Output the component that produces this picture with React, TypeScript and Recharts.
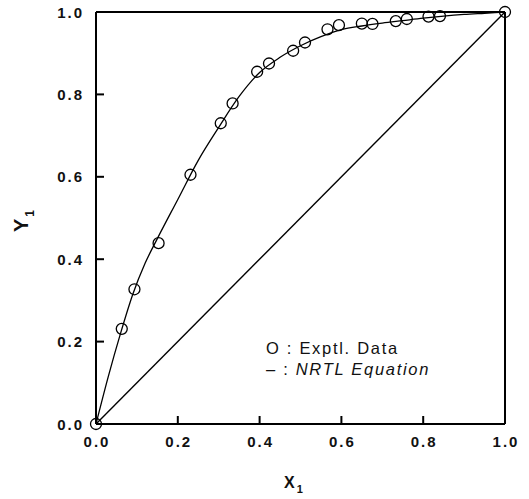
import React from 'react';
import { ComposedChart, Line, Scatter, XAxis, YAxis } from 'recharts';

// experimental VLE data (x1, y1)
const exptX = [0, 0.063, 0.094, 0.153, 0.231, 0.305, 0.334, 0.394, 0.423, 0.482, 0.511, 0.566, 0.594, 0.65, 0.676, 0.733, 0.76, 0.813, 0.841, 1.0];
const exptY = [0, 0.231, 0.327, 0.439, 0.605, 0.73, 0.778, 0.855, 0.875, 0.906, 0.926, 0.958, 0.968, 0.972, 0.971, 0.978, 0.983, 0.989, 0.99, 1.0];

// NRTL fit curve
const nrtlX = [0, 0.03, 0.06, 0.09, 0.12, 0.15, 0.2, 0.25, 0.3, 0.35, 0.4, 0.45, 0.5, 0.55, 0.6, 0.65, 0.7, 0.75, 0.8, 0.85, 0.9, 0.95, 1.0];
const nrtlY = [0, 0.115, 0.22, 0.315, 0.39, 0.45, 0.545, 0.64, 0.72, 0.795, 0.853, 0.89, 0.918, 0.94, 0.957, 0.966, 0.973, 0.979, 0.985, 0.99, 0.994, 0.997, 1.0];

// x = y diagonal
const diagX = [0, 1];
const diagY = [0, 1];

const xTicks = [0, 0.2, 0.4, 0.6, 0.8, 1.0];
const yTicks = [0, 0.2, 0.4, 0.6, 0.8, 1.0];

const expt = exptX.map((x, i) => ({ x, y: exptY[i] }));
const nrtl = nrtlX.map((x, i) => ({ x, y: nrtlY[i] }));
const diag = diagX.map((x, i) => ({ x, y: diagY[i] }));

const FONT = '"Liberation Sans", Arial, sans-serif';
// negative tick size -> tick marks point into the plot
const TICK_LEN = 8;

const tickText = {
    fontFamily: FONT,
    fontSize: 15,
    fontWeight: 700,
    letterSpacing: 2,
    fill: '#111',
};

const tickLineStyle = { stroke: '#000', strokeWidth: 2 };
const axisLineStyle = { stroke: '#000', strokeWidth: 2 };

const BottomTick = ({ x, y, payload }: any) => (
    <text x={x + 1} y={y + 23} textAnchor="middle" style={tickText}>
        {payload.value.toFixed(1)}
    </text>
);

const LeftTick = ({ x, y, payload }: any) => (
    <text x={x - 12} y={y + 5.5} textAnchor="end" style={tickText}>
        {payload.value.toFixed(1)}
    </text>
);

// top/right axes carry tick marks only
const NoLabel = () => <g />;

const OpenCircle = ({ cx, cy }: any) => (
    <circle cx={cx} cy={cy} r={5.5} fill="none" stroke="#000" strokeWidth={1.3} />
);

const XLabel = ({ viewBox }: any) => {
    const cx = viewBox.x + viewBox.width / 2 - 7;
    return (
        <text x={cx} y={488} textAnchor="middle" style={{ fontFamily: FONT, fontSize: 16, fontWeight: 700, fill: '#111' }}>
            X
            <tspan fontSize={11} dx={2} dy={5}>1</tspan>
        </text>
    );
};

const YLabel = ({ viewBox }: any) => {
    const cy = viewBox.y + viewBox.height / 2 + 3;
    const cx = 28;
    return (
        <text
            x={cx}
            y={cy}
            transform={`rotate(-90, ${cx}, ${cy})`}
            textAnchor="middle"
            style={{ fontFamily: FONT, fontSize: 20, fontWeight: 700, fill: '#111' }}
        >
            Y
            <tspan fontSize={12} dx={2} dy={6}>1</tspan>
        </text>
    );
};

export default function App() {
    return (
        <div style={{ position: 'absolute', left: 0, top: 0, width: 529, height: 499, background: '#fff' }}>
            <ComposedChart width={529} height={499} margin={{ top: 2, right: 14, bottom: 0, left: 0 }}>
                <XAxis
                    xAxisId="b"
                    type="number"
                    dataKey="x"
                    domain={[0, 1]}
                    ticks={xTicks}
                    interval={0}
                    orientation="bottom"
                    height={75}
                    tickSize={-TICK_LEN}
                    tickMargin={TICK_LEN}
                    tickLine={tickLineStyle}
                    tick={<BottomTick />}
                    axisLine={axisLineStyle}
                    label={<XLabel />}
                />
                <XAxis
                    xAxisId="t"
                    type="number"
                    dataKey="x"
                    domain={[0, 1]}
                    ticks={xTicks}
                    interval={0}
                    orientation="top"
                    height={10}
                    tickSize={-TICK_LEN}
                    tickLine={tickLineStyle}
                    tick={<NoLabel />}
                    axisLine={axisLineStyle}
                />
                <YAxis
                    yAxisId="l"
                    type="number"
                    dataKey="y"
                    domain={[0, 1]}
                    ticks={yTicks}
                    interval={0}
                    orientation="left"
                    width={96}
                    tickSize={-TICK_LEN}
                    tickMargin={TICK_LEN}
                    tickLine={tickLineStyle}
                    tick={<LeftTick />}
                    axisLine={axisLineStyle}
                    label={<YLabel />}
                />
                <YAxis
                    yAxisId="r"
                    type="number"
                    dataKey="y"
                    domain={[0, 1]}
                    ticks={yTicks}
                    interval={0}
                    orientation="right"
                    width={10}
                    tickSize={-TICK_LEN}
                    tickLine={tickLineStyle}
                    tick={<NoLabel />}
                    axisLine={axisLineStyle}
                />
                <Line
                    xAxisId="b"
                    yAxisId="l"
                    data={diag}
                    dataKey="y"
                    type="linear"
                    stroke="#000"
                    strokeWidth={1.4}
                    dot={false}
                    isAnimationActive={false}
                />
                <Line
                    xAxisId="b"
                    yAxisId="l"
                    data={nrtl}
                    dataKey="y"
                    type="monotone"
                    stroke="#000"
                    strokeWidth={1.3}
                    dot={false}
                    isAnimationActive={false}
                />
                <Scatter
                    xAxisId="b"
                    yAxisId="l"
                    data={expt}
                    dataKey="y"
                    shape={<OpenCircle />}
                    isAnimationActive={false}
                />
            </ComposedChart>
            <div
                style={{
                    position: 'absolute',
                    left: 266,
                    top: 338,
                    fontFamily: FONT,
                    fontSize: 16.5,
                    letterSpacing: 1.7,
                    lineHeight: '21px',
                    color: '#111',
                    whiteSpace: 'pre',
                }}
            >
                <div>O : Exptl. Data</div>
                <div>
                    – : <span style={{ fontStyle: 'italic' }}>NRTL Equation</span>
                </div>
            </div>
        </div>
    );
}
